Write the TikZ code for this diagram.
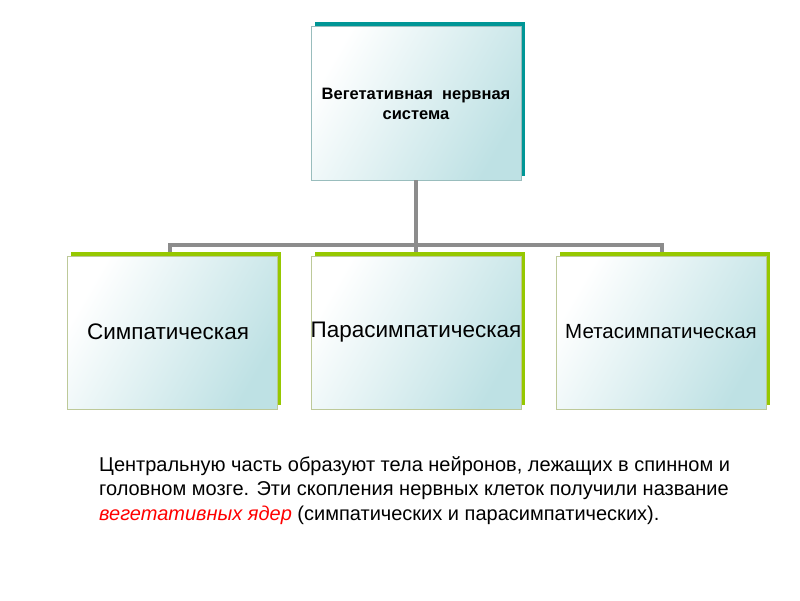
\documentclass[tikz,border=0pt]{standalone}
\usepackage{fontspec}
\setmainfont{Liberation Sans}
\begin{document}
\begin{tikzpicture}[x=1pt,y=-1pt,
  box/.style={draw=#1!60!black!40,line width=0.5pt,shading=axis,left color=white,right color=lcy,shading angle=60},
  conn/.style={draw=gray!90,line width=4pt}]
\useasboundingbox (0,0) rectangle (800,600);
\definecolor{teal1}{RGB}{0,150,150}
\definecolor{grn}{RGB}{150,200,0}
\definecolor{lcy}{RGB}{190,225,228}
% top
\fill[teal1] (315,22) rectangle (525,176);
\path[box=teal1] (311,26) rectangle (521,180);
\node[font=\bfseries\fontsize{16.5}{20}\selectfont,align=center] (top) at (416,104) {Вегетативная\ \ нервная\\система};
\coordinate (topb) at (416,180);
% children
\foreach \x/\n in {67/a,311/b,556/c}{
  \fill[grn] (\x+4,252) rectangle (\x+214,405);
  \path[box=grn] (\x,256) rectangle (\x+210,409);
}
\coordinate (a) at (170,252);
\coordinate (b) at (416,252);
\coordinate (c) at (662,252);
\coordinate (ja) at (170,245);
\coordinate (j) at (416,245);
\coordinate (jc) at (662,245);
\node[font=\fontsize{22.5}{26}\selectfont] (ta) at (168,332) {Симпатическая};
\node[font=\fontsize{22.5}{26}\selectfont] (tb) at (416,332) {Парасимпатическая};
\node[font=\fontsize{20.5}{24}\selectfont] (tc) at (661,332) {Метасимпатическая};
\draw[conn] (topb) -- (b);
\draw[conn] (a) -- (ja) -- (jc) -- (c);
\node[anchor=north west,align=left,font=\fontsize{20}{24.5}\selectfont,inner sep=0] (txt) at (99,456)
{Центральную часть образуют тела нейронов, лежащих в спинном и\\головном мозге. Эти скопления нервных клеток получили название\\\textcolor{red}{\itshape вегетативных ядер} (симпатических и парасимпатических).};
\end{tikzpicture}
\end{document}
